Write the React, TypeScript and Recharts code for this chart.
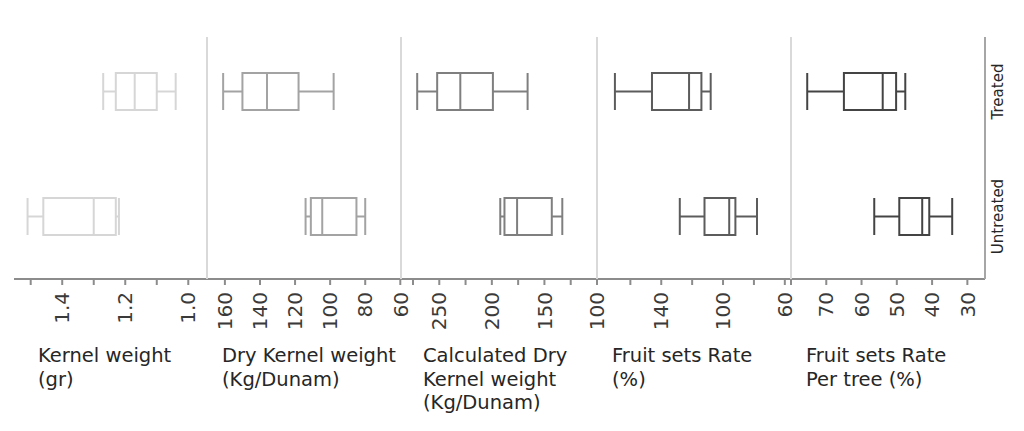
import React from 'react';
import { BarChart, Bar, XAxis, YAxis } from 'recharts';

const GROUPS = ['Treated', 'Untreated'];

// five-number summaries per group: [low, q1, median, q3, high]
const KERNEL_WEIGHT = [[1.04, 1.1, 1.17, 1.23, 1.27], [1.22, 1.23, 1.3, 1.46, 1.51]];
const DRY_KERNEL = [[98, 118, 136, 150, 161], [80, 85, 104.5, 111, 114]];
const CALC_DRY_KERNEL = [[166, 199, 230, 252, 271], [133, 143, 176, 188, 192]];
const FRUIT_SET = [[108, 114, 122, 146, 170], [78, 92, 96, 112, 128]];
const FRUIT_SET_TREE = [[47.6, 50.2, 54, 65, 75.4], [34.3, 40.8, 42.8, 49.3, 56.4]];

const KERNEL_TICKS = [1.5, 1.4, 1.3, 1.2, 1.1, 1.0];
const KERNEL_LABELS = [1.4, 1.2, 1.0];
const DRY_TICKS = [160, 140, 120, 100, 80, 60];
const DRY_LABELS = [160, 140, 120, 100, 80, 60];
const CALC_TICKS = [275, 250, 225, 200, 175, 150, 125, 100];
const CALC_LABELS = [250, 200, 150, 100];
const FRUIT_TICKS = [160, 140, 120, 100, 80, 60];
const FRUIT_LABELS = [140, 100, 60];
const TREE_TICKS = [80, 70, 60, 50, 40, 30];
const TREE_LABELS = [70, 60, 50, 40, 30];

const TITLES = [
  ['Kernel weight', '(gr)'],
  ['Dry Kernel weight', '(Kg/Dunam)'],
  ['Calculated Dry', 'Kernel weight', '(Kg/Dunam)'],
  ['Fruit sets Rate', '(%)'],
  ['Fruit sets Rate', 'Per tree (%)'],
];

const FONT = '"DejaVu Sans", sans-serif';
const AXIS_GREY = '#8c8c8c';
const PAD = 12;

const toRows = (stats: number[][]) =>
  GROUPS.map((group, i) => ({
    group,
    low: stats[i][0],
    q1: stats[i][1],
    median: stats[i][2],
    q3: stats[i][3],
    high: stats[i][4],
  }));

const panels = [
  { stats: KERNEL_WEIGHT, ticks: KERNEL_TICKS, labels: KERNEL_LABELS, domain: [0.9406, 1.553], digits: 1, color: '#d6d6d6', left: 14, width: 193, titleDx: 24 },
  { stats: DRY_KERNEL, ticks: DRY_TICKS, labels: DRY_LABELS, domain: [59.6, 170.2], digits: 0, color: '#a3a3a3', left: 207, width: 194, titleDx: 15 },
  { stats: CALC_DRY_KERNEL, ticks: CALC_TICKS, labels: CALC_LABELS, domain: [100, 286.4], digits: 0, color: '#7f7f7f', left: 401, width: 196, titleDx: 22 },
  { stats: FRUIT_SET, ticks: FRUIT_TICKS, labels: FRUIT_LABELS, domain: [56, 181.6], digits: 0, color: '#5c5c5c', left: 597, width: 194, titleDx: 15 },
  { stats: FRUIT_SET_TREE, ticks: TREE_TICKS, labels: TREE_LABELS, domain: [25, 80], digits: 0, color: '#444444', left: 791, width: 194, titleDx: 15 },
];

function BoxShape(props: any) {
  const { x, y, width, height, payload, color } = props;
  const px = (v: number) => x + ((v - payload.low) / (payload.high - payload.low)) * width;
  const cy = y + height / 2;
  const xl = px(payload.low);
  const x1 = px(payload.q1);
  const xm = px(payload.median);
  const x3 = px(payload.q3);
  const xh = px(payload.high);
  return (
    <g stroke={color} strokeWidth={2} fill="none">
      <line x1={xl} x2={x1} y1={cy} y2={cy} />
      <line x1={x3} x2={xh} y1={cy} y2={cy} />
      <line x1={xl} x2={xl} y1={y} y2={y + height} />
      <line x1={xh} x2={xh} y1={y} y2={y + height} />
      <rect x={Math.min(x1, x3)} y={y} width={Math.abs(x3 - x1)} height={height} />
      <line x1={xm} x2={xm} y1={y} y2={y + height} />
    </g>
  );
}

function ValueTick(props: any) {
  const { x, y, payload, labels, digits } = props;
  const v = payload.value;
  if (!labels.some((l: number) => Math.abs(l - v) < 1e-6)) return <g />;
  return (
    <g transform={`translate(${x},${y})`}>
      <text
        transform="rotate(-90)"
        x={-5}
        y={0}
        dy="0.36em"
        textAnchor="end"
        fill="#3a3a3a"
        fontSize={20}
        fontFamily={FONT}
      >
        {v.toFixed(digits)}
      </text>
    </g>
  );
}

function GroupTick(props: any) {
  const { x, y, payload } = props;
  return (
    <g transform={`translate(${x + 13},${y})`}>
      <text transform="rotate(-90)" textAnchor="middle" dy="0.36em" fill="#262626" fontSize={15} fontFamily={FONT}>
        {payload.value}
      </text>
    </g>
  );
}

function PanelTitle(props: any) {
  const { viewBox, lines, dx } = props;
  return (
    <text x={viewBox.x + dx} y={viewBox.y + 83} fill="#262626" fontSize={19.5} fontFamily={FONT}>
      {lines.map((line: string, i: number) => (
        <tspan key={i} x={viewBox.x + dx} dy={i === 0 ? 0 : 23.5}>
          {line}
        </tspan>
      ))}
    </text>
  );
}

export default function App() {
  return (
    <div style={{ position: 'absolute', left: 0, top: 0, width: 1024, height: 431, background: '#fff' }}>
      {panels.map((p, idx) => {
        const last = idx === panels.length - 1;
        const rightExtra = last ? 39 : 0;
        return (
          <div key={idx} style={{ position: 'absolute', top: 0, left: p.left - PAD }}>
            <BarChart
              width={p.width + 2 * PAD + rightExtra}
              height={431}
              data={toRows(p.stats)}
              layout="vertical"
              margin={{ top: 37, bottom: 0, left: PAD - 1, right: PAD }}
            >
              <XAxis
                type="number"
                domain={p.domain}
                allowDataOverflow
                reversed
                ticks={p.ticks}
                interval={0}
                height={152}
                tickSize={6}
                tickMargin={2}
                axisLine={{ stroke: AXIS_GREY, strokeWidth: 2 }}
                tickLine={{ stroke: AXIS_GREY, strokeWidth: 2 }}
                tick={(tp: any) => <ValueTick {...tp} labels={p.labels} digits={p.digits} />}
                label={(lp: any) => <PanelTitle viewBox={lp.viewBox} lines={TITLES[idx]} dx={p.titleDx} />}
              />
              <YAxis
                yAxisId="left"
                type="category"
                dataKey="group"
                width={1}
                tick={false}
                tickLine={false}
                padding={{ top: -8, bottom: 0 }}
                axisLine={idx === 0 ? false : { stroke: '#d9d9d9', strokeWidth: 2 }}
              />
              {last && (
                <YAxis
                  yAxisId="right"
                  orientation="right"
                  type="category"
                  dataKey="group"
                  width={39}
                  tickSize={0}
                  tickMargin={0}
                  tickLine={false}
                  padding={{ top: -8, bottom: 0 }}
                  axisLine={{ stroke: '#a6a6a6', strokeWidth: 2 }}
                  tick={(tp: any) => <GroupTick {...tp} />}
                />
              )}
              <Bar
                yAxisId="left"
                dataKey={(d: any) => [d.low, d.high]}
                barSize={37}
                isAnimationActive={false}
                shape={(sp: any) => <BoxShape {...sp} color={p.color} />}
              />
            </BarChart>
          </div>
        );
      })}
    </div>
  );
}
